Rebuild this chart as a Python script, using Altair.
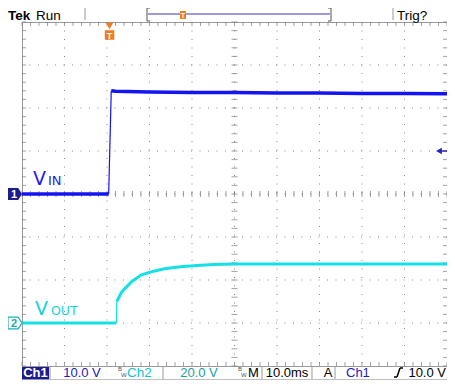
import altair as alt
import pandas as pd

# ---------------- data (time in ms, 0 = screen centre, 10 ms/div; levels in divisions) -------------
vin_t = [-50, -40, -30.0, -29.6, -29.0, -28.0, -20, -10, 0, 10, 20, 30, 40, 50]
vin_v = [0.0, 0.0, 0.0, 0.0, 2.40, 2.39, 2.37, 2.36, 2.36, 2.35, 2.35, 2.34, 2.34, 2.33]
vin_edge = (3, 4)            # indices of the fast rising edge (drawn thin)

vout_t = [-50, -40, -30, -27.8, -27.7, -26.5, -24.2, -21.9, -19.6, -16.5, -12.7, -8.8, -4.9, 0, 10, 20, 30, 40, 50]
vout_v = [-3.0, -3.0, -3.0, -3.0, -2.50, -2.27, -2.04, -1.88, -1.81, -1.74, -1.69, -1.66, -1.64, -1.63, -1.63, -1.63, -1.63, -1.63, -1.63]
vout_edge = (3, 4)

trigger_t = [-29.4]          # trigger position (ms)
trigger_level = [1.0]        # Ch1 trigger level, divisions (10.0 V at 10 V/div)
ch1_ground = [0.0]
ch2_ground = [-3.0]

grid_t = [-40, -30, -20, -10, 0, 10, 20, 30, 40]
grid_v = [-3, -2, -1, 0, 1, 2, 3]
minor_t = [i * 2 for i in range(-25, 26)]
minor_v = [i * 0.2 for i in range(-20, 21)]

W, H = 425, 344
xs = alt.Scale(domain=[-50, 50], nice=False, zero=False)
ys = alt.Scale(domain=[-4, 4], nice=False, zero=False)
FONT = "Liberation Sans"
GRID = "#8a8a8a"

one = pd.DataFrame({"a": [0]})


def X(f="t"):
    return alt.X(f + ":Q", scale=xs, axis=None)


def Y(f="v"):
    return alt.Y(f + ":Q", scale=ys, axis=None)


def txt(s, x, y, size=13, color="black", align="left", bold=False, font=FONT):
    return alt.Chart(one).mark_text(
        text=s, align=align, baseline="alphabetic", fontSize=size, color=color,
        font=font, fontWeight="bold" if bold else "normal"
    ).encode(x=alt.value(x), y=alt.value(y))


def vline(x, y1, y2, color="#9a9a9a", w=1):
    return alt.Chart(one).mark_rule(color=color, strokeWidth=w).encode(
        x=alt.value(x), y=alt.value(y1), y2=alt.value(y2))


def hline(x1, x2, y, color="#9a9a9a", w=1):
    return alt.Chart(one).mark_rule(color=color, strokeWidth=w).encode(
        x=alt.value(x1), x2=alt.value(x2), y=alt.value(y))


def seg(x1, y1, x2, y2, color="black", w=1.5):
    return alt.Chart(one).mark_rule(color=color, strokeWidth=w).encode(
        x=alt.value(x1), x2=alt.value(x2), y=alt.value(y1), y2=alt.value(y2))


def box(x1, x2, y1, y2, color):
    return alt.Chart(one).mark_rect(color=color).encode(
        x=alt.value(x1), x2=alt.value(x2), y=alt.value(y1), y2=alt.value(y2))


# ---------------- graticule ----------------
gx = alt.Chart(pd.DataFrame({"t": grid_t})).mark_rule(
    strokeDash=[1, 7.5], color=GRID, strokeWidth=1).encode(x=X())
gy = alt.Chart(pd.DataFrame({"v": grid_v})).mark_rule(
    strokeDash=[1, 7.5], color=GRID, strokeWidth=1).encode(y=Y())

mt = pd.DataFrame({"t": minor_t, "c": [0.0] * len(minor_t)})
mv = pd.DataFrame({"v": minor_v, "c": [0.0] * len(minor_v)})
TK = "#7a7a7a"
cx_ticks = alt.Chart(mt).mark_tick(orient="vertical", size=6, color=TK, thickness=1).encode(
    x=X(), y=Y("c"))
cy_ticks = alt.Chart(mv).mark_tick(orient="horizontal", size=6, color=TK, thickness=1).encode(
    y=Y(), x=X("c"))
top_ticks = alt.Chart(mt).mark_tick(orient="vertical", size=4, color=TK, thickness=1).encode(
    x=X(), y=alt.value(2))
bot_ticks = alt.Chart(mt).mark_tick(orient="vertical", size=4, color=TK, thickness=1).encode(
    x=X(), y=alt.value(H - 2))
left_ticks = alt.Chart(mv).mark_tick(orient="horizontal", size=4, color=TK, thickness=1).encode(
    y=Y(), x=alt.value(2))
right_ticks = alt.Chart(mv).mark_tick(orient="horizontal", size=4, color=TK, thickness=1).encode(
    y=Y(), x=alt.value(W - 2))


# ---------------- traces ----------------
def trace(ts, vs, edge, color, w):
    df = pd.DataFrame({"t": ts, "v": vs})
    a, b = edge
    parts = [(df.iloc[: a + 1], w), (df.iloc[a: b + 1], 1.2), (df.iloc[b:], w)]
    return [alt.Chart(p).mark_line(color=color, strokeWidth=sw).encode(x=X(), y=Y())
            for p, sw in parts]


vin = trace(vin_t, vin_v, vin_edge, "#1414f0", 3.5)
vout = trace(vout_t, vout_v, vout_edge, "#14e1e6", 3)

# ---------------- markers ----------------
MARK = "M-1,-0.85 L0.45,-0.85 L1,0 L0.45,0.85 L-1,0.85 Z"
ch1_mark = alt.Chart(pd.DataFrame({"v": ch1_ground})).mark_point(
    shape=MARK, size=196, filled=True, color="#1c1c8c", opacity=1
).encode(x=alt.value(-7), y=Y())
ch1_lbl = alt.Chart(pd.DataFrame({"v": ch1_ground})).mark_text(
    text="1", color="white", fontSize=11, fontWeight="bold", font=FONT, baseline="middle", dy=0.5
).encode(x=alt.value(-8), y=Y())
ch2_mark = alt.Chart(pd.DataFrame({"v": ch2_ground})).mark_point(
    shape=MARK, size=196, filled=True, fill="white", stroke="#20b0b0", strokeWidth=1.2, opacity=1
).encode(x=alt.value(-7), y=Y())
ch2_lbl = alt.Chart(pd.DataFrame({"v": ch2_ground})).mark_text(
    text="2", color="#20a8a8", fontSize=11, fontWeight="bold", font=FONT, baseline="middle", dy=0.5
).encode(x=alt.value(-8), y=Y())

trig_level = alt.Chart(pd.DataFrame({"v": trigger_level})).mark_point(
    shape="triangle-left", size=45, filled=True, color="#2020c8", opacity=1
).encode(x=alt.value(W - 8), y=Y())
trig_tail = alt.Chart(pd.DataFrame({"v": trigger_level})).mark_tick(
    orient="horizontal", size=6, thickness=2, color="#2020c8"
).encode(x=alt.value(W - 3), y=Y())

ORANGE = "#f07c1a"
tdf = pd.DataFrame({"t": trigger_t})
trig_tri = alt.Chart(tdf).mark_point(
    shape="triangle-down", size=55, filled=True, color=ORANGE, opacity=1
).encode(x=X(), y=alt.value(4))
trig_box = alt.Chart(tdf).mark_point(
    shape="square", size=90, filled=True, color=ORANGE, opacity=1
).encode(x=X(), y=alt.value(13))
trig_T = alt.Chart(tdf).mark_text(
    text="T", color="white", fontSize=9, fontWeight="bold", font=FONT, baseline="middle"
).encode(x=X(), y=alt.value(13.5))

# ---------------- labels on screen ----------------
LF = "DejaVu Sans"
labels = [
    txt("V", 11, 163, 19, "#1e1ee6", font=LF),
    txt("IN", 26, 163, 13, "#1e1ee6", font=LF),
    txt("V", 13, 293, 19, "#16d2d8", font=LF),
    txt("OUT", 29, 293, 12.5, "#16d2d8", font=LF),
]

# ---------------- top status bar ----------------
TY = -2
top = [
    txt("Tek", -14, TY, 13.5, "black", bold=True),
    txt("Run", 14, TY, 13.5, "black"),
    vline(63, -14, -2),
    seg(125, -14, 125, -1, "#555555", 1), seg(125, -14, 128, -14, "#555555", 1),
    seg(125, -1, 128, -1, "#555555", 1),
    seg(309, -14, 309, -1, "#555555", 1), seg(306, -14, 309, -14, "#555555", 1),
    seg(306, -1, 309, -1, "#555555", 1),
    hline(126, 308, -8, "#3a3aa8", 1),
    box(158, 164, -11, -3, ORANGE),
    txt("T", 161, -4.5, 7, "white", align="center", bold=True),
    vline(371, -14, -2),
    txt("Trig?", 375, TY, 13.5, "black"),
]

# ---------------- bottom status bar ----------------
BY = 355
bottom = [
    box(0, 27, 345, 357.5, "#1c1c8c"),
    txt("Ch1", 13.5, BY, 13, "white", align="center", bold=True),
    vline(28, 345, 358), vline(141, 345, 358), vline(240, 345, 358),
    vline(290, 345, 358), vline(313, 345, 358),
    hline(28, W, 357.5, "#c0c0c0"),
    txt("10.0 V", 60, BY, 13, "#2020c0", align="center"),
    txt("B", 96, 349, 6, "#555555"),
    txt("W", 99, 355, 6, "#555555"),
    txt("Ch2", 105, BY, 13.5, "#16c0c8"),
    txt("20.0 V", 177, BY, 13, "#1aa0a0", align="center"),
    txt("B", 216, 349, 6, "#555555"),
    txt("W", 219, 355, 6, "#555555"),
    txt("M", 226, BY, 13, "black"),
    txt("10.0ms", 265, BY, 13, "black", align="center"),
    txt("A", 306, BY, 13, "black", align="center"),
    txt("Ch1", 324, BY, 13, "#2020c0"),
    seg(372, BY, 375, BY),
    seg(375, BY, 378, BY - 9),
    seg(378, BY - 9, 381, BY - 9),
    txt("10.0 V", W - 1, BY, 13, "black", align="right"),
]

chart = alt.layer(
    gx, gy, cx_ticks, cy_ticks, top_ticks, bot_ticks, left_ticks, right_ticks,
    *vin, *vout, ch1_mark, ch1_lbl, ch2_mark, ch2_lbl, trig_level, trig_tail,
    trig_tri, trig_box, trig_T, *labels, *top, *bottom
).properties(
    width=W, height=H, autosize="none",
    padding={"left": 14, "top": 14, "right": 0, "bottom": 14},
    background="white",
).configure_view(stroke="#9a9a9a", strokeWidth=1)

chart.save("out.html", embed_options={"renderer": "svg", "actions": False})
